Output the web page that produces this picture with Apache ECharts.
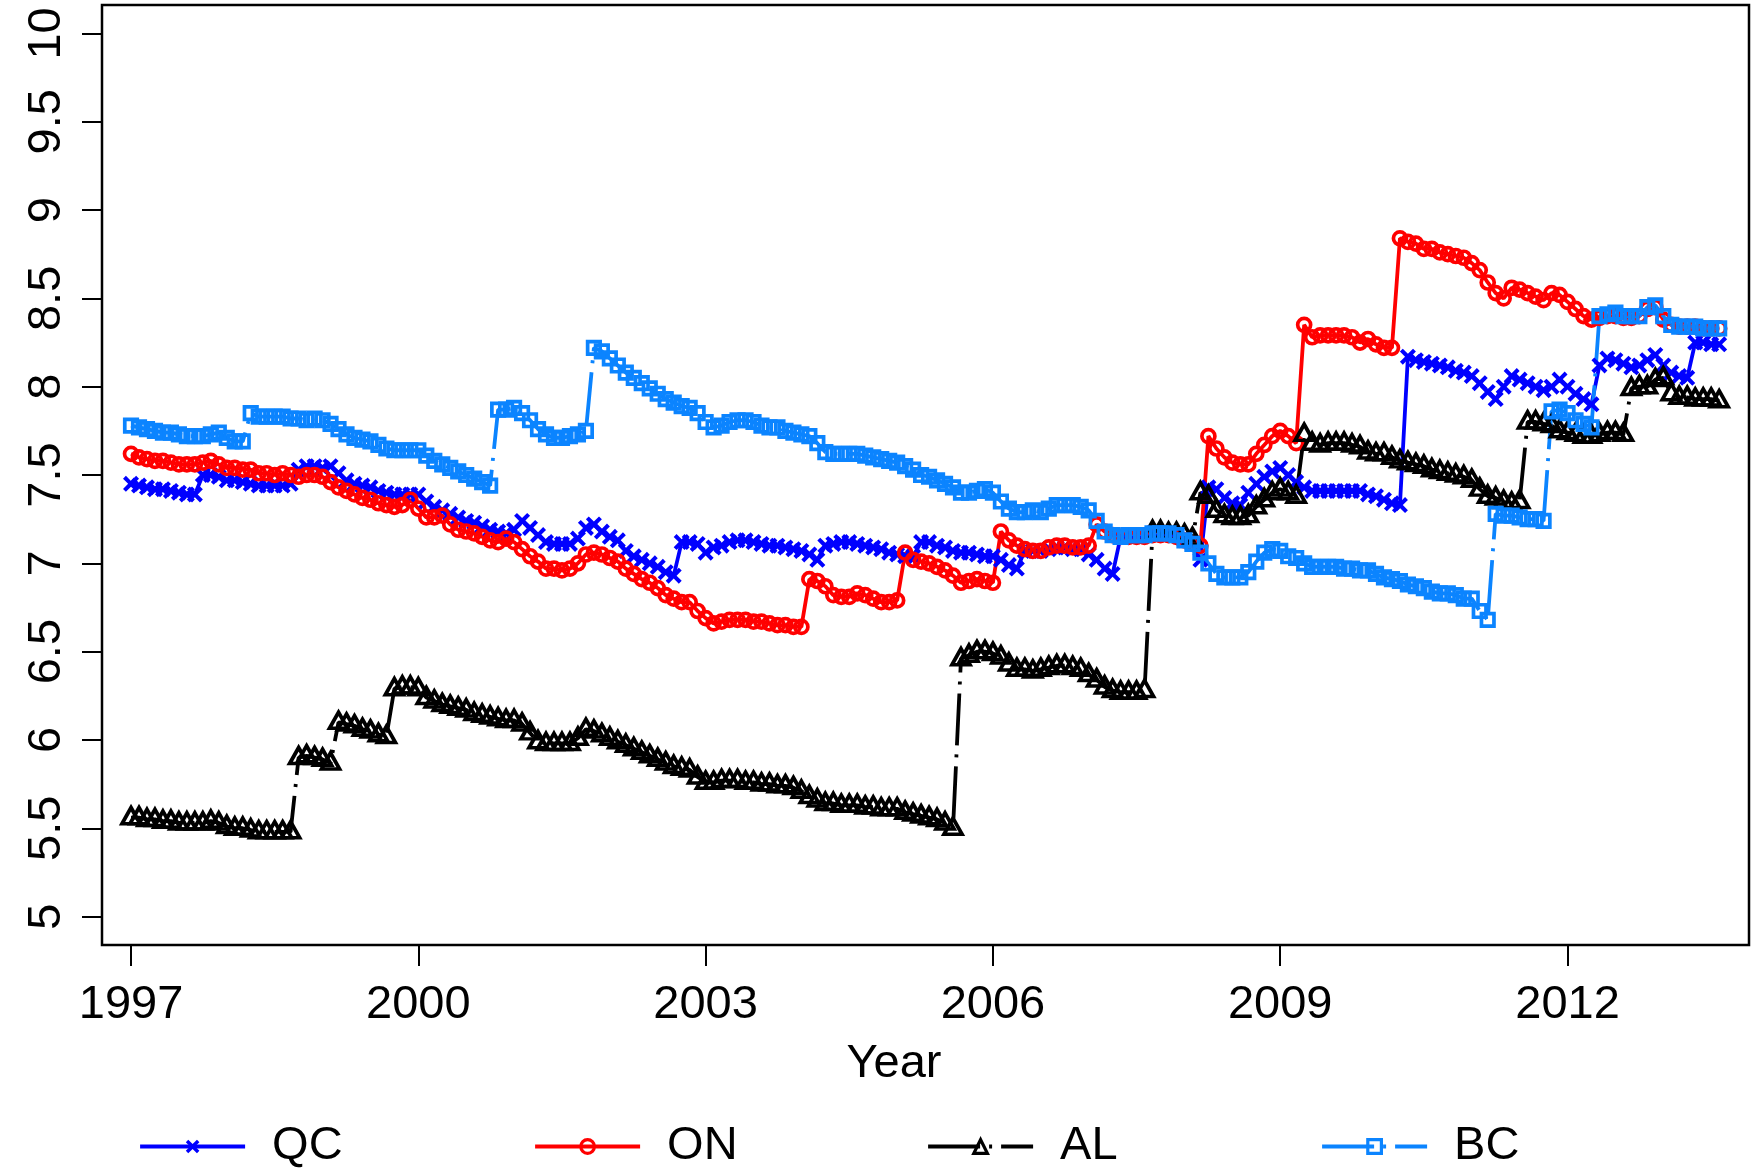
<!DOCTYPE html>
<html>
<head>
<meta charset="utf-8">
<script src="https://cdn.jsdelivr.net/npm/echarts@6/dist/echarts.min.js"></script>
<style>
  html, body { margin: 0; padding: 0; background: #fff; }
  #chart { width: 1762px; height: 1169px; }
</style>
</head>
<body>
<div id="chart"></div>
<script>
// Monthly observations, January 1997 onwards
const startYear = 1997;

const qc = [
  7.45, 7.44, 7.43, 7.42, 7.42, 7.41, 7.40, 7.39, 7.39, 7.50,
  7.50, 7.49, 7.47, 7.47, 7.46, 7.45, 7.44, 7.44, 7.44, 7.44,
  7.45, 7.53, 7.55, 7.55, 7.54, 7.55, 7.51, 7.47, 7.45, 7.44,
  7.43, 7.41, 7.40, 7.39, 7.39, 7.39, 7.39, 7.35, 7.32, 7.30,
  7.28, 7.26, 7.24, 7.23, 7.21, 7.19, 7.18, 7.17, 7.19, 7.24,
  7.20, 7.16, 7.12, 7.11, 7.11, 7.11, 7.14, 7.20, 7.22, 7.18,
  7.15, 7.13, 7.07, 7.04, 7.02, 7.00, 6.98, 6.95, 6.93, 7.12,
  7.12, 7.11, 7.06, 7.09, 7.10, 7.12, 7.13, 7.13, 7.12, 7.11,
  7.10, 7.10, 7.09, 7.08, 7.07, 7.05, 7.02, 7.10, 7.11, 7.12,
  7.12, 7.11, 7.10, 7.09, 7.08, 7.06, 7.05, 7.04, 7.04, 7.12,
  7.12, 7.10, 7.09, 7.07, 7.06, 7.06, 7.05, 7.04, 7.04, 7.02,
  6.99, 6.97, 7.07, 7.07, 7.07, 7.08, 7.09, 7.09, 7.08, 7.08,
  7.05, 7.02, 6.97, 6.94, 7.15, 7.16, 7.16, 7.16, 7.17, 7.17,
  7.17, 7.16, 7.13, 7.11, 7.02, 7.43, 7.42, 7.37, 7.34, 7.33,
  7.40, 7.45, 7.49, 7.52, 7.54, 7.50, 7.46, 7.43, 7.41, 7.41,
  7.41, 7.41, 7.41, 7.41, 7.41, 7.39, 7.38, 7.36, 7.34, 7.33,
  8.17, 8.15, 8.14, 8.13, 8.12, 8.11, 8.09, 8.08, 8.06, 8.02,
  7.97, 7.93, 8.00, 8.06, 8.04, 8.02, 8.00, 7.98, 8.00, 8.04,
  8.00, 7.96, 7.93, 7.90, 8.12, 8.16, 8.15, 8.13, 8.11, 8.12,
  8.15, 8.18, 8.12, 8.08, 8.06, 8.05, 8.25, 8.25, 8.24, 8.24
];

const on = [
  7.62, 7.60, 7.59, 7.58, 7.58, 7.57, 7.56, 7.56, 7.56, 7.57,
  7.58, 7.56, 7.54, 7.54, 7.53, 7.53, 7.51, 7.51, 7.50, 7.51,
  7.50, 7.49, 7.50, 7.50, 7.49, 7.46, 7.43, 7.41, 7.39, 7.37,
  7.36, 7.34, 7.33, 7.32, 7.33, 7.36, 7.31, 7.26, 7.26, 7.27,
  7.22, 7.19, 7.18, 7.17, 7.15, 7.13, 7.12, 7.14, 7.12, 7.08,
  7.04, 7.01, 6.97, 6.97, 6.96, 6.97, 7.00, 7.05, 7.06, 7.05,
  7.03, 7.01, 6.97, 6.94, 6.91, 6.89, 6.86, 6.82, 6.80, 6.78,
  6.78, 6.73, 6.69, 6.66, 6.67, 6.68, 6.68, 6.68, 6.67, 6.67,
  6.66, 6.65, 6.65, 6.64, 6.64, 6.91, 6.90, 6.87, 6.82, 6.81,
  6.81, 6.83, 6.82, 6.80, 6.78, 6.78, 6.79, 7.06, 7.02, 7.01,
  7.00, 6.98, 6.96, 6.93, 6.89, 6.90, 6.91, 6.90, 6.89, 7.18,
  7.13, 7.10, 7.08, 7.07, 7.07, 7.09, 7.10, 7.10, 7.09, 7.09,
  7.10, 7.22, 7.18, 7.16, 7.15, 7.15, 7.15, 7.15, 7.16, 7.16,
  7.16, 7.15, 7.13, 7.11, 7.10, 7.72, 7.65, 7.60, 7.57, 7.56,
  7.56, 7.62, 7.67, 7.72, 7.75, 7.72, 7.68, 8.35, 8.28, 8.29,
  8.29, 8.29, 8.29, 8.28, 8.25, 8.27, 8.24, 8.22, 8.22, 8.84,
  8.82, 8.81, 8.78, 8.78, 8.76, 8.75, 8.74, 8.73, 8.70, 8.66,
  8.59, 8.53, 8.50, 8.56, 8.55, 8.53, 8.51, 8.49, 8.53, 8.52,
  8.48, 8.44, 8.40, 8.38, 8.39, 8.40, 8.40, 8.39, 8.39, 8.40,
  8.44, 8.45, 8.38, 8.35, 8.34, 8.34, 8.34, 8.33, 8.33, 8.33
];

const al = [
  5.56, 5.56, 5.55, 5.55, 5.54, 5.54, 5.53, 5.53, 5.53, 5.53,
  5.54, 5.53, 5.51, 5.50, 5.50, 5.49, 5.48, 5.48, 5.48, 5.48,
  5.48, 5.90, 5.91, 5.90, 5.89, 5.87, 6.10, 6.09, 6.08, 6.06,
  6.05, 6.03, 6.02, 6.29, 6.30, 6.30, 6.29, 6.24, 6.22, 6.20,
  6.19, 6.18, 6.17, 6.15, 6.14, 6.13, 6.12, 6.11, 6.11, 6.09,
  6.04, 5.99, 5.98, 5.98, 5.98, 5.98, 6.01, 6.06, 6.05, 6.03,
  6.01, 5.99, 5.97, 5.95, 5.93, 5.91, 5.89, 5.87, 5.85, 5.84,
  5.83, 5.79, 5.76, 5.76, 5.77, 5.77, 5.77, 5.76, 5.76, 5.75,
  5.75, 5.74, 5.74, 5.73, 5.71, 5.68, 5.66, 5.64, 5.64, 5.63,
  5.63, 5.63, 5.62, 5.62, 5.61, 5.61, 5.61, 5.59, 5.58, 5.57,
  5.56, 5.55, 5.53, 5.50, 6.46, 6.48, 6.50, 6.50, 6.49, 6.47,
  6.43, 6.40, 6.40, 6.39, 6.40, 6.41, 6.42, 6.42, 6.41, 6.40,
  6.37, 6.34, 6.30, 6.28, 6.27, 6.27, 6.27, 6.28, 7.18, 7.18,
  7.17, 7.17, 7.16, 7.14, 7.40, 7.38, 7.30, 7.27, 7.26, 7.26,
  7.27, 7.32, 7.36, 7.40, 7.42, 7.40, 7.38, 7.73, 7.68, 7.67,
  7.68, 7.68, 7.68, 7.67, 7.66, 7.63, 7.62, 7.62, 7.60, 7.58,
  7.57, 7.56, 7.55, 7.53, 7.52, 7.51, 7.50, 7.49, 7.47, 7.42,
  7.38, 7.37, 7.35, 7.34, 7.35, 7.80, 7.80, 7.79, 7.78, 7.75,
  7.74, 7.73, 7.72, 7.72, 7.73, 7.74, 7.74, 7.73, 7.99, 8.00,
  8.00, 8.04, 8.05, 7.96, 7.94, 7.94, 7.93, 7.93, 7.93, 7.92
];

const bc = [
  7.78, 7.77, 7.76, 7.75, 7.74, 7.74, 7.73, 7.72, 7.72, 7.72,
  7.73, 7.74, 7.71, 7.69, 7.69, 7.85, 7.83, 7.83, 7.83, 7.83,
  7.82, 7.82, 7.81, 7.82, 7.81, 7.79, 7.76, 7.73, 7.71, 7.70,
  7.69, 7.67, 7.65, 7.64, 7.64, 7.64, 7.64, 7.61, 7.58, 7.56,
  7.54, 7.52, 7.50, 7.48, 7.46, 7.44, 7.87, 7.87, 7.88, 7.85,
  7.81, 7.76, 7.73, 7.71, 7.71, 7.72, 7.73, 7.75, 8.22, 8.20,
  8.16, 8.12, 8.08, 8.05, 8.02, 7.99, 7.96, 7.93, 7.91, 7.89,
  7.88, 7.85, 7.80, 7.77, 7.78, 7.80, 7.81, 7.81, 7.80, 7.78,
  7.77, 7.77, 7.75, 7.74, 7.73, 7.72, 7.68, 7.63, 7.62, 7.62,
  7.62, 7.62, 7.61, 7.60, 7.59, 7.58, 7.57, 7.55, 7.53, 7.50,
  7.49, 7.47, 7.45, 7.43, 7.40, 7.40, 7.41, 7.42, 7.40, 7.35,
  7.31, 7.29, 7.29, 7.30, 7.29, 7.31, 7.33, 7.33, 7.33, 7.32,
  7.30, 7.24, 7.18, 7.16, 7.15, 7.16, 7.16, 7.16, 7.17, 7.17,
  7.17, 7.16, 7.13, 7.11, 7.06, 7.00, 6.94, 6.92, 6.92, 6.92,
  6.95, 7.01, 7.06, 7.08, 7.07, 7.04, 7.03, 7.00, 6.98, 6.98,
  6.98, 6.98, 6.97, 6.97, 6.96, 6.96, 6.94, 6.92, 6.91, 6.90,
  6.88, 6.87, 6.86, 6.84, 6.83, 6.83, 6.82, 6.80, 6.80, 6.73,
  6.68, 7.28, 7.27, 7.27, 7.26, 7.25, 7.25, 7.24, 7.86, 7.87,
  7.85, 7.81, 7.79, 7.77, 8.40, 8.41, 8.42, 8.40, 8.40, 8.40,
  8.45, 8.46, 8.40, 8.35, 8.34, 8.34, 8.34, 8.33, 8.33, 8.33
];

const yearTicks = [1997, 2000, 2003, 2006, 2009, 2012];
const valueTicks = [5, 5.5, 6, 6.5, 7, 7.5, 8, 8.5, 9, 9.5, 10];
const seriesNames = ['QC', 'ON', 'AL', 'BC'];
const xTitle = 'Year';

// ---- styling / layout ----
const FONT = '"Liberation Sans", Arial, Helvetica, sans-serif';
const COLORS = { QC: '#0000ff', ON: '#ff0000', AL: '#000000', BC: '#0b84ff' };
const CROSS = 'path://M0,1.8L1.8,0L5,3.2L8.2,0L10,1.8L6.8,5L10,8.2L8.2,10L5,6.8L1.8,10L0,8.2L3.2,5Z';
const DOTDASH = [52, 9, 3, 9];
const LINE_W = 3.8;
const MARK_W = 3.7;

function monthly(values) {
  return values.map((v, i) => [startYear + i / 12, v]);
}

function lineSeries(name, values, opts) {
  return Object.assign({
    name: name,
    type: 'line',
    data: monthly(values),
    showSymbol: true,
    showAllSymbol: true,
    animation: false,
    emphasis: { disabled: true },
    lineStyle: { color: COLORS[name], width: LINE_W }
  }, opts);
}

const series = [
  lineSeries('QC', qc, {
    symbol: CROSS, symbolSize: 16,
    itemStyle: { color: COLORS.QC, borderWidth: 0 }
  }),
  lineSeries('ON', on, {
    symbol: 'circle', symbolSize: 13,
    itemStyle: { color: 'rgba(0,0,0,0)', borderColor: COLORS.ON, borderWidth: MARK_W }
  }),
  lineSeries('AL', al, {
    symbol: 'triangle', symbolSize: [18, 16], symbolOffset: [0, -2],
    lineStyle: { color: COLORS.AL, width: LINE_W, type: DOTDASH },
    itemStyle: { color: 'rgba(0,0,0,0)', borderColor: COLORS.AL, borderWidth: MARK_W }
  }),
  lineSeries('BC', bc, {
    symbol: 'rect', symbolSize: 12.5,
    lineStyle: { color: COLORS.BC, width: LINE_W, type: DOTDASH },
    itemStyle: { color: 'rgba(0,0,0,0)', borderColor: COLORS.BC, borderWidth: MARK_W }
  })
];

// One legend block per series so each entry sits at its own fixed column
const legendLefts = [138, 533, 926, 1320];
const legends = seriesNames.map((n, k) => ({
  data: [n],
  left: legendLefts[k],
  top: 1123,
  padding: 0,
  itemWidth: 105,
  itemHeight: 17,
  selectedMode: false,
  lineStyle: { width: 4.2 },
  itemStyle: { borderWidth: n === 'QC' ? 0 : 3.2 },
  textStyle: { fontSize: 47, fontFamily: FONT, color: '#000', padding: [0, 0, 0, 22] }
}));

const chart = echarts.init(document.getElementById('chart'), null, { renderer: 'canvas' });
chart.setOption({
  backgroundColor: '#ffffff',
  animation: false,
  grid: {
    left: 102, right: 13, top: 5, bottom: 224,
    show: true, borderColor: '#000', borderWidth: 2.5, backgroundColor: 'transparent',
    outerBoundsMode: 'none'
  },
  xAxis: {
    type: 'value', min: 1996.697, max: 2013.895,
    splitLine: { show: false },
    axisLine: { show: false },
    axisTick: { show: true, length: 21, lineStyle: { color: '#000', width: 2 }, customValues: yearTicks },
    axisLabel: {
      customValues: yearTicks, fontSize: 47, fontFamily: FONT, color: '#000', margin: 37,
      formatter: v => String(v)
    }
  },
  yAxis: {
    type: 'value', min: 4.839, max: 10.161,
    splitLine: { show: false },
    axisLine: { show: false },
    axisTick: { show: true, length: 20, lineStyle: { color: '#000', width: 2 }, customValues: valueTicks },
    axisLabel: {
      customValues: valueTicks, fontSize: 47, fontFamily: FONT, color: '#000', margin: 31, rotate: 90,
      formatter: v => String(v)
    }
  },
  legend: legends,
  graphic: [{
    type: 'text', x: 894, y: 1064,
    style: { text: xTitle, font: '47px ' + FONT, fill: '#000', textAlign: 'center', textVerticalAlign: 'middle' }
  }],
  series: series
});
</script>
</body>
</html>
